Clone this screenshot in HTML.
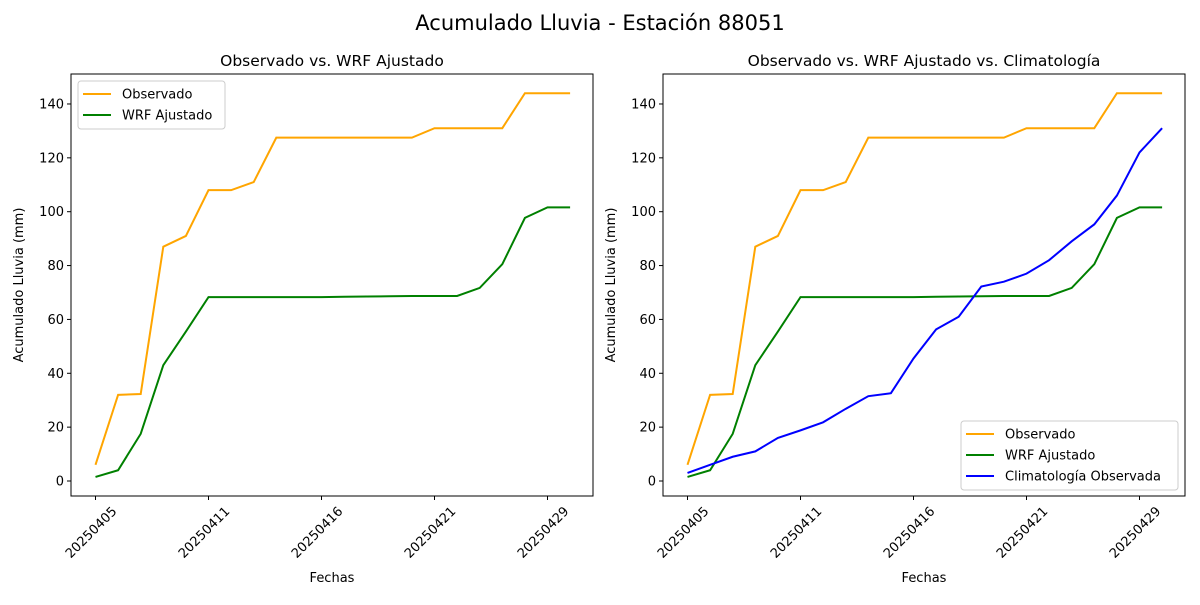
<!DOCTYPE html>
<html><head><meta charset="utf-8"><style>
body{margin:0;background:#fff}
svg text{font-family:"DejaVu Sans","Liberation Sans",sans-serif;fill:#000}
</style></head><body>
<svg id="s" width="1200" height="600" xmlns="http://www.w3.org/2000/svg"></svg>
<script>
const s=document.getElementById('s');
let h='';
h+='<text x="600" y="30" font-size="21" text-anchor="middle">Acumulado Lluvia - Estación 88051</text>';
const obs=[6,32,32.3,87,91,108,108,111,127.5,127.5,127.5,127.5,127.5,127.5,127.5,131,131,131,131,144,144,144];
const wrf=[1.5,4,17.5,43,55.5,68.3,68.3,68.3,68.3,68.3,68.3,68.4,68.5,68.6,68.7,68.7,68.7,71.7,80.5,97.7,101.6,101.6];
const cli=[3,6,9,11,16,18.8,21.8,26.8,31.5,32.6,45.5,56.3,61,72.2,74,77,82,89,95.3,106,122,131];
const labs=['20250405','20250411','20250416','20250421','20250429'];
function panel(ox,title,series){
  const L=ox+71,R=ox+593,T=74,B=496;
  const X=i=>ox+95.5+22.6*i, Y=v=>481-v*2.693;
  h+=`<text x="${(L+R)/2}" y="66" font-size="15.5" text-anchor="middle">${title}</text>`;
  for(let v=0;v<=140;v+=20){const y=Y(v);h+=`<line x1="${L-4}" x2="${L}" y1="${y}" y2="${y}" stroke="#000"/><text x="${L-7}" y="${y+4.5}" font-size="13" text-anchor="end">${v}</text>`;}
  labs.forEach((l,k)=>{const x=X(k*5);h+=`<line x1="${x}" x2="${x}" y1="${B}" y2="${B+4}" stroke="#000"/><text transform="translate(${x+22},${B+16}) rotate(-45)" font-size="13" text-anchor="end">${l}</text>`;});
  h+=`<text x="${(L+R)/2}" y="582" font-size="13" text-anchor="middle">Fechas</text>`;
  h+=`<text transform="translate(${L-48},${(T+B)/2}) rotate(-90)" font-size="13" text-anchor="middle">Acumulado Lluvia (mm)</text>`;
  series.forEach(([d,c])=>{h+=`<polyline fill="none" stroke="${c}" stroke-width="2" points="${d.map((v,i)=>X(i)+','+Y(v)).join(' ')}"/>`;});
  h+=`<rect x="${L}" y="${T}" width="${R-L}" height="${B-T}" fill="none" stroke="#000" stroke-width="1"/>`;
}
panel(0,'Observado vs. WRF Ajustado',[[obs,'orange'],[wrf,'green']]);
panel(592,'Observado vs. WRF Ajustado vs. Climatología',[[obs,'orange'],[wrf,'green'],[cli,'blue']]);
function legend(x,y,w,items){
  h+=`<rect x="${x}" y="${y}" width="${w}" height="${items.length*21+6}" rx="3" fill="#fff" fill-opacity="0.8" stroke="#ccc"/>`;
  items.forEach(([t,c],i)=>{const yy=y+13+i*21;h+=`<line x1="${x+5}" x2="${x+33}" y1="${yy}" y2="${yy}" stroke="${c}" stroke-width="2"/><text x="${x+44}" y="${yy+4.5}" font-size="13">${t}</text>`;});
}
legend(78,81,147,[['Observado','orange'],['WRF Ajustado','green']]);
legend(961,421,217,[['Observado','orange'],['WRF Ajustado','green'],['Climatología Observada','blue']]);
s.innerHTML=h;
</script>
</body></html>
